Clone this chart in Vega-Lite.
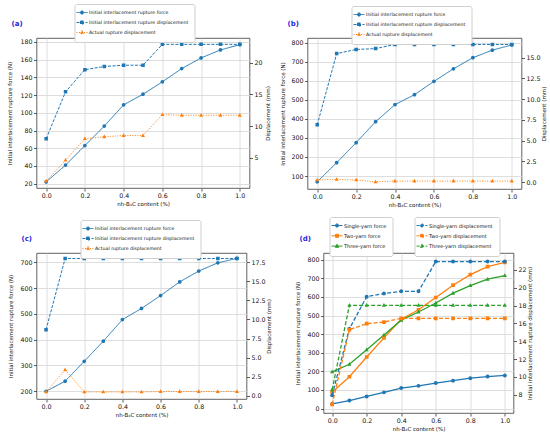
{
  "$schema": "https://vega.github.io/schema/vega-lite/v6.json",
  "padding": {"left": 6.5, "top": 3, "right": 0, "bottom": 0},
  "background": "white",
  "datasets": {
    "a": [
      {"s": "Initial interlacement rupture force", "x": 0, "y": 22},
      {"s": "Initial interlacement rupture force", "x": 0.1, "y": 41},
      {"s": "Initial interlacement rupture force", "x": 0.2, "y": 63},
      {"s": "Initial interlacement rupture force", "x": 0.3, "y": 85},
      {"s": "Initial interlacement rupture force", "x": 0.4, "y": 109},
      {"s": "Initial interlacement rupture force", "x": 0.5, "y": 121},
      {"s": "Initial interlacement rupture force", "x": 0.6, "y": 135},
      {"s": "Initial interlacement rupture force", "x": 0.7, "y": 150},
      {"s": "Initial interlacement rupture force", "x": 0.8, "y": 162},
      {"s": "Initial interlacement rupture force", "x": 0.9, "y": 171},
      {"s": "Initial interlacement rupture force", "x": 1.0, "y": 177},
      {"s": "Initial interlacement rupture displacement", "x": 0, "y": 8.0},
      {"s": "Initial interlacement rupture displacement", "x": 0.1, "y": 15.4},
      {"s": "Initial interlacement rupture displacement", "x": 0.2, "y": 18.9},
      {"s": "Initial interlacement rupture displacement", "x": 0.3, "y": 19.4},
      {"s": "Initial interlacement rupture displacement", "x": 0.4, "y": 19.6},
      {"s": "Initial interlacement rupture displacement", "x": 0.5, "y": 19.6},
      {"s": "Initial interlacement rupture displacement", "x": 0.6, "y": 22.9},
      {"s": "Initial interlacement rupture displacement", "x": 0.7, "y": 22.9},
      {"s": "Initial interlacement rupture displacement", "x": 0.8, "y": 22.9},
      {"s": "Initial interlacement rupture displacement", "x": 0.9, "y": 22.9},
      {"s": "Initial interlacement rupture displacement", "x": 1.0, "y": 22.9},
      {"s": "Actual rupture displacement", "x": 0, "y": 1.3},
      {"s": "Actual rupture displacement", "x": 0.1, "y": 4.6},
      {"s": "Actual rupture displacement", "x": 0.2, "y": 8.0},
      {"s": "Actual rupture displacement", "x": 0.3, "y": 8.3},
      {"s": "Actual rupture displacement", "x": 0.4, "y": 8.5},
      {"s": "Actual rupture displacement", "x": 0.5, "y": 8.5},
      {"s": "Actual rupture displacement", "x": 0.6, "y": 11.8},
      {"s": "Actual rupture displacement", "x": 0.7, "y": 11.7},
      {"s": "Actual rupture displacement", "x": 0.8, "y": 11.7},
      {"s": "Actual rupture displacement", "x": 0.9, "y": 11.7},
      {"s": "Actual rupture displacement", "x": 1.0, "y": 11.7}
    ],
    "b": [
      {"s": "Initial interlacement rupture force", "x": 0, "y": 70},
      {"s": "Initial interlacement rupture force", "x": 0.1, "y": 170},
      {"s": "Initial interlacement rupture force", "x": 0.2, "y": 275},
      {"s": "Initial interlacement rupture force", "x": 0.3, "y": 385},
      {"s": "Initial interlacement rupture force", "x": 0.4, "y": 475},
      {"s": "Initial interlacement rupture force", "x": 0.5, "y": 527},
      {"s": "Initial interlacement rupture force", "x": 0.6, "y": 597},
      {"s": "Initial interlacement rupture force", "x": 0.7, "y": 663},
      {"s": "Initial interlacement rupture force", "x": 0.8, "y": 721},
      {"s": "Initial interlacement rupture force", "x": 0.9, "y": 761},
      {"s": "Initial interlacement rupture force", "x": 1.0, "y": 788},
      {"s": "Initial interlacement rupture displacement", "x": 0, "y": 6.9},
      {"s": "Initial interlacement rupture displacement", "x": 0.1, "y": 15.5},
      {"s": "Initial interlacement rupture displacement", "x": 0.2, "y": 16.0},
      {"s": "Initial interlacement rupture displacement", "x": 0.3, "y": 16.1},
      {"s": "Initial interlacement rupture displacement", "x": 0.4, "y": 16.6},
      {"s": "Initial interlacement rupture displacement", "x": 0.5, "y": 16.6},
      {"s": "Initial interlacement rupture displacement", "x": 0.6, "y": 16.6},
      {"s": "Initial interlacement rupture displacement", "x": 0.7, "y": 16.6},
      {"s": "Initial interlacement rupture displacement", "x": 0.8, "y": 16.6},
      {"s": "Initial interlacement rupture displacement", "x": 0.9, "y": 16.6},
      {"s": "Initial interlacement rupture displacement", "x": 1.0, "y": 16.6},
      {"s": "Actual rupture displacement", "x": 0, "y": 0.25},
      {"s": "Actual rupture displacement", "x": 0.1, "y": 0.32},
      {"s": "Actual rupture displacement", "x": 0.2, "y": 0.25},
      {"s": "Actual rupture displacement", "x": 0.3, "y": 0.02},
      {"s": "Actual rupture displacement", "x": 0.4, "y": 0.12},
      {"s": "Actual rupture displacement", "x": 0.5, "y": 0.12},
      {"s": "Actual rupture displacement", "x": 0.6, "y": 0.12},
      {"s": "Actual rupture displacement", "x": 0.7, "y": 0.12},
      {"s": "Actual rupture displacement", "x": 0.8, "y": 0.12},
      {"s": "Actual rupture displacement", "x": 0.9, "y": 0.12},
      {"s": "Actual rupture displacement", "x": 1.0, "y": 0.12}
    ],
    "c": [
      {"s": "Initial interlacement rupture force", "x": 0, "y": 200},
      {"s": "Initial interlacement rupture force", "x": 0.1, "y": 239},
      {"s": "Initial interlacement rupture force", "x": 0.2, "y": 316},
      {"s": "Initial interlacement rupture force", "x": 0.3, "y": 394},
      {"s": "Initial interlacement rupture force", "x": 0.4, "y": 478},
      {"s": "Initial interlacement rupture force", "x": 0.5, "y": 521},
      {"s": "Initial interlacement rupture force", "x": 0.6, "y": 571},
      {"s": "Initial interlacement rupture force", "x": 0.7, "y": 624},
      {"s": "Initial interlacement rupture force", "x": 0.8, "y": 666},
      {"s": "Initial interlacement rupture force", "x": 0.9, "y": 698},
      {"s": "Initial interlacement rupture force", "x": 1.0, "y": 715},
      {"s": "Initial interlacement rupture displacement", "x": 0, "y": 8.66},
      {"s": "Initial interlacement rupture displacement", "x": 0.1, "y": 18.0},
      {"s": "Initial interlacement rupture displacement", "x": 0.2, "y": 18.0},
      {"s": "Initial interlacement rupture displacement", "x": 0.3, "y": 18.0},
      {"s": "Initial interlacement rupture displacement", "x": 0.4, "y": 18.0},
      {"s": "Initial interlacement rupture displacement", "x": 0.5, "y": 18.0},
      {"s": "Initial interlacement rupture displacement", "x": 0.6, "y": 18.0},
      {"s": "Initial interlacement rupture displacement", "x": 0.7, "y": 18.0},
      {"s": "Initial interlacement rupture displacement", "x": 0.8, "y": 18.0},
      {"s": "Initial interlacement rupture displacement", "x": 0.9, "y": 18.0},
      {"s": "Initial interlacement rupture displacement", "x": 1.0, "y": 18.0},
      {"s": "Actual rupture displacement", "x": 0, "y": 0.5},
      {"s": "Actual rupture displacement", "x": 0.1, "y": 3.4},
      {"s": "Actual rupture displacement", "x": 0.2, "y": 0.5},
      {"s": "Actual rupture displacement", "x": 0.3, "y": 0.5},
      {"s": "Actual rupture displacement", "x": 0.4, "y": 0.5},
      {"s": "Actual rupture displacement", "x": 0.5, "y": 0.5},
      {"s": "Actual rupture displacement", "x": 0.6, "y": 0.55},
      {"s": "Actual rupture displacement", "x": 0.7, "y": 0.55},
      {"s": "Actual rupture displacement", "x": 0.8, "y": 0.55},
      {"s": "Actual rupture displacement", "x": 0.9, "y": 0.55},
      {"s": "Actual rupture displacement", "x": 1.0, "y": 0.55}
    ],
    "d": [
      {"s": "Single-yarn force", "x": 0, "y": 25},
      {"s": "Single-yarn force", "x": 0.1, "y": 43},
      {"s": "Single-yarn force", "x": 0.2, "y": 65},
      {"s": "Single-yarn force", "x": 0.3, "y": 87},
      {"s": "Single-yarn force", "x": 0.4, "y": 110},
      {"s": "Single-yarn force", "x": 0.5, "y": 122},
      {"s": "Single-yarn force", "x": 0.6, "y": 137},
      {"s": "Single-yarn force", "x": 0.7, "y": 150},
      {"s": "Single-yarn force", "x": 0.8, "y": 163},
      {"s": "Single-yarn force", "x": 0.9, "y": 172},
      {"s": "Single-yarn force", "x": 1.0, "y": 178},
      {"s": "Two-yarn force", "x": 0, "y": 88},
      {"s": "Two-yarn force", "x": 0.1, "y": 171},
      {"s": "Two-yarn force", "x": 0.2, "y": 277},
      {"s": "Two-yarn force", "x": 0.3, "y": 380},
      {"s": "Two-yarn force", "x": 0.4, "y": 480},
      {"s": "Two-yarn force", "x": 0.5, "y": 531},
      {"s": "Two-yarn force", "x": 0.6, "y": 597},
      {"s": "Two-yarn force", "x": 0.7, "y": 663},
      {"s": "Two-yarn force", "x": 0.8, "y": 720},
      {"s": "Two-yarn force", "x": 0.9, "y": 763},
      {"s": "Two-yarn force", "x": 1.0, "y": 786},
      {"s": "Three-yarn force", "x": 0, "y": 197},
      {"s": "Three-yarn force", "x": 0.1, "y": 238},
      {"s": "Three-yarn force", "x": 0.2, "y": 316},
      {"s": "Three-yarn force", "x": 0.3, "y": 395},
      {"s": "Three-yarn force", "x": 0.4, "y": 475},
      {"s": "Three-yarn force", "x": 0.5, "y": 519},
      {"s": "Three-yarn force", "x": 0.6, "y": 567},
      {"s": "Three-yarn force", "x": 0.7, "y": 620},
      {"s": "Three-yarn force", "x": 0.8, "y": 661},
      {"s": "Three-yarn force", "x": 0.9, "y": 695},
      {"s": "Three-yarn force", "x": 1.0, "y": 715},
      {"s": "Single-yarn displacement", "x": 0, "y": 7.93},
      {"s": "Single-yarn displacement", "x": 0.1, "y": 15.4},
      {"s": "Single-yarn displacement", "x": 0.2, "y": 19.0},
      {"s": "Single-yarn displacement", "x": 0.3, "y": 19.35},
      {"s": "Single-yarn displacement", "x": 0.4, "y": 19.6},
      {"s": "Single-yarn displacement", "x": 0.5, "y": 19.6},
      {"s": "Single-yarn displacement", "x": 0.6, "y": 22.94},
      {"s": "Single-yarn displacement", "x": 0.7, "y": 22.94},
      {"s": "Single-yarn displacement", "x": 0.8, "y": 22.94},
      {"s": "Single-yarn displacement", "x": 0.9, "y": 22.94},
      {"s": "Single-yarn displacement", "x": 1.0, "y": 22.94},
      {"s": "Two-yarn displacement", "x": 0, "y": 6.9},
      {"s": "Two-yarn displacement", "x": 0.1, "y": 15.3},
      {"s": "Two-yarn displacement", "x": 0.2, "y": 15.97},
      {"s": "Two-yarn displacement", "x": 0.3, "y": 16.15},
      {"s": "Two-yarn displacement", "x": 0.4, "y": 16.57},
      {"s": "Two-yarn displacement", "x": 0.5, "y": 16.57},
      {"s": "Two-yarn displacement", "x": 0.6, "y": 16.57},
      {"s": "Two-yarn displacement", "x": 0.7, "y": 16.57},
      {"s": "Two-yarn displacement", "x": 0.8, "y": 16.57},
      {"s": "Two-yarn displacement", "x": 0.9, "y": 16.57},
      {"s": "Two-yarn displacement", "x": 1.0, "y": 16.57},
      {"s": "Three-yarn displacement", "x": 0, "y": 8.55},
      {"s": "Three-yarn displacement", "x": 0.1, "y": 18.03},
      {"s": "Three-yarn displacement", "x": 0.2, "y": 18.03},
      {"s": "Three-yarn displacement", "x": 0.3, "y": 18.03},
      {"s": "Three-yarn displacement", "x": 0.4, "y": 18.03},
      {"s": "Three-yarn displacement", "x": 0.5, "y": 18.03},
      {"s": "Three-yarn displacement", "x": 0.6, "y": 18.03},
      {"s": "Three-yarn displacement", "x": 0.7, "y": 18.03},
      {"s": "Three-yarn displacement", "x": 0.8, "y": 18.03},
      {"s": "Three-yarn displacement", "x": 0.9, "y": 18.03},
      {"s": "Three-yarn displacement", "x": 1.0, "y": 18.03}
    ]
  },
  "vconcat": [
    {
      "hconcat": [
        {
          "width": 213,
          "height": 150,
          "title": {"text": "(a)", "dx": -25, "offset": -23.5},
          "data": {"name": "a"},
          "encoding": {
            "x": {"field": "x", "type": "quantitative", "scale": {"domain": [-0.05, 1.05], "nice": false}, "axis": {"values": [0, 0.2, 0.4, 0.6, 0.8, 1], "format": ".1f", "title": "nh-B₄C content (%)"}},
            "color": {"field": "s", "type": "nominal", "title": null, "scale": {"domain": ["Initial interlacement rupture force", "Initial interlacement rupture displacement", "Actual rupture displacement"], "range": ["#1f77b4", "#1f77b4", "#ff7f0e"]}, "legend": {"legendX": 38, "legendY": -34}},
            "shape": {"field": "s", "type": "nominal", "title": null, "scale": {"domain": ["Initial interlacement rupture force", "Initial interlacement rupture displacement", "Actual rupture displacement"], "range": ["M-2.75,0H2.75M-0.8,0A0.8,0.8 0 1,0 0.8,0A0.8,0.8 0 1,0 -0.8,0Z", "M-2.75,0H2.75M-0.75,-0.75H0.75V0.75H-0.75Z", "M-2.75,0H2.75M0,-0.95L0.85,0.6L-0.85,0.6Z"]}, "legend": {"legendX": 38, "legendY": -34}},
            "strokeDash": {"field": "s", "type": "nominal", "title": null, "scale": {"domain": ["Initial interlacement rupture force", "Initial interlacement rupture displacement", "Actual rupture displacement"], "range": [[1, 0], [3, 1.5], [1, 1.5]]}, "legend": {"legendX": 38, "legendY": -34}}
          },
          "layer": [
            {
              "transform": [{"filter": {"field": "s", "equal": "Initial interlacement rupture force"}}],
              "mark": {"type": "line", "point": {"filled": true, "size": 22}},
              "encoding": {"y": {"field": "y", "type": "quantitative", "scale": {"domain": [15.1, 184.5], "nice": false, "zero": false}, "axis": {"values": [20, 40, 60, 80, 100, 120, 140, 160, 180], "title": "Initial interlacement rupture force (N)", "titlePadding": 7.5}}}
            },
            {
              "transform": [{"filter": {"field": "s", "oneOf": ["Initial interlacement rupture displacement", "Actual rupture displacement"]}}],
              "mark": {"type": "line", "point": {"filled": true, "size": 22}},
              "encoding": {"y": {"field": "y", "type": "quantitative", "scale": {"domain": [0.21, 23.9], "nice": false, "zero": false}, "axis": {"orient": "right", "values": [5, 10, 15, 20], "grid": false, "title": "Displacement (mm)", "titleAngle": 270, "titleBaseline": "top", "titlePadding": 3.7}}}
            }
          ],
          "resolve": {"scale": {"y": "independent"}}
        },
        {
          "width": 214,
          "height": 151,
          "title": {"text": "(b)", "dx": -20, "offset": -21.5},
          "data": {"name": "b"},
          "encoding": {
            "x": {"field": "x", "type": "quantitative", "scale": {"domain": [-0.05, 1.05], "nice": false}, "axis": {"values": [0, 0.2, 0.4, 0.6, 0.8, 1], "format": ".1f", "title": "nh-B₄C content (%)"}},
            "color": {"field": "s", "type": "nominal", "title": null, "scale": {"domain": ["Initial interlacement rupture force", "Initial interlacement rupture displacement", "Actual rupture displacement"], "range": ["#1f77b4", "#1f77b4", "#ff7f0e"]}, "legend": {"legendX": 44, "legendY": -32}},
            "shape": {"field": "s", "type": "nominal", "title": null, "scale": {"domain": ["Initial interlacement rupture force", "Initial interlacement rupture displacement", "Actual rupture displacement"], "range": ["M-2.75,0H2.75M-0.8,0A0.8,0.8 0 1,0 0.8,0A0.8,0.8 0 1,0 -0.8,0Z", "M-2.75,0H2.75M-0.75,-0.75H0.75V0.75H-0.75Z", "M-2.75,0H2.75M0,-0.95L0.85,0.6L-0.85,0.6Z"]}, "legend": {"legendX": 44, "legendY": -32}},
            "strokeDash": {"field": "s", "type": "nominal", "title": null, "scale": {"domain": ["Initial interlacement rupture force", "Initial interlacement rupture displacement", "Actual rupture displacement"], "range": [[1, 0], [3, 1.5], [1, 1.5]]}, "legend": {"legendX": 44, "legendY": -32}}
          },
          "layer": [
            {
              "transform": [{"filter": {"field": "s", "equal": "Initial interlacement rupture force"}}],
              "mark": {"type": "line", "point": {"filled": true, "size": 22}},
              "encoding": {"y": {"field": "y", "type": "quantitative", "scale": {"domain": [31.8, 824.7], "nice": false, "zero": false}, "axis": {"values": [100, 200, 300, 400, 500, 600, 700, 800], "title": "Initial interlacement rupture force (N)", "titlePadding": 5.5}}}
            },
            {
              "transform": [{"filter": {"field": "s", "oneOf": ["Initial interlacement rupture displacement", "Actual rupture displacement"]}}],
              "mark": {"type": "line", "point": {"filled": true, "size": 22}},
              "encoding": {"y": {"field": "y", "type": "quantitative", "scale": {"domain": [-0.84, 17.38], "nice": false, "zero": false}, "axis": {"orient": "right", "values": [0, 2.5, 5, 7.5, 10, 12.5, 15], "format": ".1f", "grid": false, "title": "Displacement (mm)", "titleAngle": 270, "titleBaseline": "top", "titlePadding": 1}}}
            }
          ],
          "resolve": {"scale": {"y": "independent"}}
        }
      ],
      "spacing": 58,
      "bounds": "flush",
      "resolve": {"scale": {"color": "independent", "shape": "independent", "strokeDash": "independent"}, "legend": {"color": "independent", "shape": "independent", "strokeDash": "independent"}}
    },
    {
      "hconcat": [
        {
          "width": 210,
          "height": 146,
          "title": {"text": "(c)", "dx": -15, "offset": -22.5},
          "data": {"name": "c"},
          "encoding": {
            "x": {"field": "x", "type": "quantitative", "scale": {"domain": [-0.05, 1.05], "nice": false}, "axis": {"values": [0, 0.2, 0.4, 0.6, 0.8, 1], "format": ".1f", "title": "nh-B₄C content (%)"}},
            "color": {"field": "s", "type": "nominal", "title": null, "scale": {"domain": ["Initial interlacement rupture force", "Initial interlacement rupture displacement", "Actual rupture displacement"], "range": ["#1f77b4", "#1f77b4", "#ff7f0e"]}, "legend": {"legendX": 44, "legendY": -33}},
            "shape": {"field": "s", "type": "nominal", "title": null, "scale": {"domain": ["Initial interlacement rupture force", "Initial interlacement rupture displacement", "Actual rupture displacement"], "range": ["M-2.75,0H2.75M-0.8,0A0.8,0.8 0 1,0 0.8,0A0.8,0.8 0 1,0 -0.8,0Z", "M-2.75,0H2.75M-0.75,-0.75H0.75V0.75H-0.75Z", "M-2.75,0H2.75M0,-0.95L0.85,0.6L-0.85,0.6Z"]}, "legend": {"legendX": 44, "legendY": -33}},
            "strokeDash": {"field": "s", "type": "nominal", "title": null, "scale": {"domain": ["Initial interlacement rupture force", "Initial interlacement rupture displacement", "Actual rupture displacement"], "range": [[1, 0], [3, 1.5], [1, 1.5]]}, "legend": {"legendX": 44, "legendY": -33}}
          },
          "layer": [
            {
              "transform": [{"filter": {"field": "s", "equal": "Initial interlacement rupture force"}}],
              "mark": {"type": "line", "point": {"filled": true, "size": 22}},
              "encoding": {"y": {"field": "y", "type": "quantitative", "scale": {"domain": [170, 736], "nice": false, "zero": false}, "axis": {"values": [200, 300, 400, 500, 600, 700], "title": "Initial interlacement rupture force (N)", "titlePadding": 6.5}}}
            },
            {
              "transform": [{"filter": {"field": "s", "oneOf": ["Initial interlacement rupture displacement", "Actual rupture displacement"]}}],
              "mark": {"type": "line", "point": {"filled": true, "size": 22}},
              "encoding": {"y": {"field": "y", "type": "quantitative", "scale": {"domain": [-0.43, 18.72], "nice": false, "zero": false}, "axis": {"orient": "right", "values": [0, 2.5, 5, 7.5, 10, 12.5, 15, 17.5], "format": ".1f", "grid": false, "title": "Displacement (mm)", "titleAngle": 270, "titleBaseline": "top", "titlePadding": 1.2}}}
            }
          ],
          "resolve": {"scale": {"y": "independent"}}
        },
        {
          "width": 190,
          "height": 160,
          "title": {"text": "(d)", "dx": -24, "offset": -25.5},
          "data": {"name": "d"},
          "encoding": {
            "x": {"field": "x", "type": "quantitative", "scale": {"domain": [-0.05, 1.05], "nice": false}, "axis": {"values": [0, 0.2, 0.4, 0.6, 0.8, 1], "format": ".1f", "title": "nh-B₄C content (%)"}}
          },
          "layer": [
            {
              "transform": [{"filter": {"field": "s", "oneOf": ["Single-yarn force", "Two-yarn force", "Three-yarn force"]}}],
              "mark": {"type": "line", "strokeWidth": 1.3, "point": {"filled": true, "size": 24}},
              "encoding": {
                "y": {"field": "y", "type": "quantitative", "scale": {"domain": [-24, 836], "nice": false, "zero": false}, "axis": {"values": [0, 100, 200, 300, 400, 500, 600, 700, 800], "title": "Initial interlacement rupture force (N)", "titlePadding": 6.5}},
                "color": {"field": "s", "type": "nominal", "title": null, "scale": {"domain": ["Single-yarn force", "Two-yarn force", "Three-yarn force"], "range": ["#1f77b4", "#ff7f0e", "#2ca02c"]}, "legend": {"legendX": 6, "legendY": -36, "labelFontSize": 5, "rowPadding": 2.3, "symbolStrokeWidth": 1.3}},
                "shape": {"field": "s", "type": "nominal", "title": null, "scale": {"domain": ["Single-yarn force", "Two-yarn force", "Three-yarn force"], "range": ["M-2.75,0H2.75M-0.8,0A0.8,0.8 0 1,0 0.8,0A0.8,0.8 0 1,0 -0.8,0Z", "M-2.75,0H2.75M-0.75,-0.75H0.75V0.75H-0.75Z", "M-2.75,0H2.75M0,-0.95L0.85,0.6L-0.85,0.6Z"]}, "legend": {"legendX": 6, "legendY": -36, "labelFontSize": 5, "rowPadding": 2.3, "symbolStrokeWidth": 1.3}}
              }
            },
            {
              "transform": [{"filter": {"field": "s", "oneOf": ["Single-yarn displacement", "Two-yarn displacement", "Three-yarn displacement"]}}],
              "mark": {"type": "line", "strokeWidth": 1.3, "strokeDash": [4, 2], "point": {"filled": true, "size": 24}},
              "encoding": {
                "y": {"field": "y", "type": "quantitative", "scale": {"domain": [5.95, 23.9], "nice": false, "zero": false}, "axis": {"orient": "right", "values": [8, 10, 12, 14, 16, 18, 20, 22], "grid": false, "title": "Initial interlacement rupture displacement (mm)", "titleAngle": 270, "titleBaseline": "top", "titlePadding": 1.4}},
                "color": {"field": "s", "type": "nominal", "title": null, "scale": {"domain": ["Single-yarn displacement", "Two-yarn displacement", "Three-yarn displacement"], "range": ["#1f77b4", "#ff7f0e", "#2ca02c"]}, "legend": {"legendX": 91, "legendY": -36, "labelFontSize": 5, "rowPadding": 2.3, "symbolStrokeWidth": 1.3, "symbolDash": [3, 1.5]}},
                "shape": {"field": "s", "type": "nominal", "title": null, "scale": {"domain": ["Single-yarn displacement", "Two-yarn displacement", "Three-yarn displacement"], "range": ["M-2.75,0H2.75M-0.8,0A0.8,0.8 0 1,0 0.8,0A0.8,0.8 0 1,0 -0.8,0Z", "M-2.75,0H2.75M-0.75,-0.75H0.75V0.75H-0.75Z", "M-2.75,0H2.75M0,-0.95L0.85,0.6L-0.85,0.6Z"]}, "legend": {"legendX": 91, "legendY": -36, "labelFontSize": 5, "rowPadding": 2.3, "symbolStrokeWidth": 1.3, "symbolDash": [3, 1.5]}}
              }
            }
          ],
          "resolve": {"scale": {"y": "independent", "color": "independent", "shape": "independent"}, "legend": {"color": "independent", "shape": "independent"}}
        }
      ],
      "spacing": 77,
      "bounds": "flush",
      "resolve": {"scale": {"color": "independent", "shape": "independent", "strokeDash": "independent"}, "legend": {"color": "independent", "shape": "independent", "strokeDash": "independent"}}
    }
  ],
  "spacing": 7,
  "resolve": {"scale": {"color": "independent", "shape": "independent", "strokeDash": "independent"}, "legend": {"color": "independent", "shape": "independent", "strokeDash": "independent"}},
  "config": {
    "font": "DejaVu Sans",
    "view": {"stroke": "#3a3a3a", "strokeWidth": 0.8},
    "axis": {"labelFontSize": 6.3, "titleFontSize": 5.5, "titleFontWeight": "normal", "labelColor": "#111", "titleColor": "#111", "tickColor": "#333", "tickSize": 3, "tickWidth": 0.8, "labelPadding": 1.5, "domain": false, "gridColor": "#d6d6d6", "gridWidth": 0.8},
    "axisX": {"titlePadding": 3},
    "legend": {"orient": "none", "direction": "vertical", "labelFontSize": 4.7, "labelColor": "#111", "padding": 6, "rowPadding": 2, "strokeColor": "#cfcfcf", "fillColor": "white", "cornerRadius": 2, "symbolSize": 16, "symbolStrokeWidth": 1, "symbolOffset": -1, "labelOffset": 4.5, "labelLimit": 400},
    "title": {"anchor": "start", "frame": "group", "fontSize": 7, "fontWeight": "bold", "color": "#1f1fe0"},
    "line": {"strokeWidth": 1}
  }
}
